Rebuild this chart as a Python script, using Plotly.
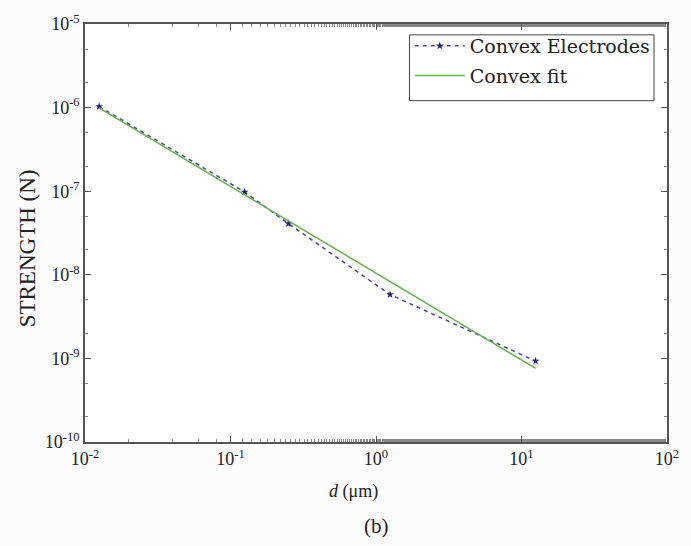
import plotly.graph_objects as go

# data
d_meas = [0.0125, 0.125, 0.25, 1.25, 12.5]
f_meas = [1.03e-6, 9.8e-8, 4.1e-8, 5.8e-9, 9.3e-10]
d_fit = [0.0125, 12.5]
f_fit = [9.9e-7, 7.6e-10]

x_tickvals = [0.01, 0.1, 1, 10, 100]
x_ticktext = ["10<sup>-2</sup>", "10<sup>-1</sup>", "10<sup>0</sup>", "10<sup>1</sup>", "10<sup>2</sup>"]
y_tickvals = [1e-10, 1e-9, 1e-8, 1e-7, 1e-6, 1e-5]
y_ticktext = ["10<sup>-10</sup>", "10<sup>-9</sup>", "10<sup>-8</sup>", "10<sup>-7</sup>", "10<sup>-6</sup>", "10<sup>-5</sup>"]

serif = "Liberation Serif, Times New Roman, serif"

fig = go.Figure()
fig.add_trace(go.Scatter(
    x=d_meas, y=f_meas, mode="lines+markers", name="Convex Electrodes",
    line=dict(color="#4a4aa0", width=1.5, dash="4px,4px"),
    marker=dict(symbol="star", size=6, color="#23236e"),
    legendgroup="a",
))
fig.add_trace(go.Scatter(
    x=d_fit, y=f_fit, mode="lines", name="Convex fit",
    line=dict(color="#66b050", width=1.5),
    legendgroup="b",
))

axis_common = dict(
    showline=True, linecolor="#555555", linewidth=1.5, mirror="allticks",
    ticks="inside", ticklen=6, tickcolor="#555555", showgrid=False, zeroline=False,
    tickfont=dict(family=serif, size=18, color="#222222"),
    minor=dict(ticks="inside", ticklen=3, tickcolor="#888888", showgrid=False),
)

fig.update_xaxes(type="log", range=[-2, 2], tickvals=x_tickvals, ticktext=x_ticktext,
                 **axis_common)
fig.update_yaxes(type="log", range=[-10, -5], tickvals=y_tickvals, ticktext=y_ticktext,
                 **axis_common)

fig.add_annotation(text="STRENGTH (N)", xref="paper", yref="paper", x=-0.0995, y=0.4635,
                   xanchor="center", yanchor="middle", textangle=-90, showarrow=False,
                   font=dict(family=serif, size=23, color="#222222"))
fig.add_annotation(text="<i>d</i> (μm)", xref="paper", yref="paper", x=0.461, y=-0.118,
                   xanchor="center", yanchor="middle", showarrow=False,
                   font=dict(family=serif, size=18, color="#222222"))
fig.add_annotation(text="(b)", xref="paper", yref="paper", x=0.5, y=-0.20, yanchor="middle",
                   showarrow=False, font=dict(family=serif, size=21, color="#222222"))

# legend frame
fig.add_shape(type="rect", xref="paper", yref="paper", x0=0.5575, x1=0.9777, y0=0.8165, y1=0.974,
              line=dict(color="#444444", width=1), fillcolor="white", layer="below")

fig.update_layout(
    width=691, height=546,
    margin=dict(l=85, r=23, t=17, b=104),
    paper_bgcolor="#fcfcfc", plot_bgcolor="white",
    legend=dict(x=0.558, y=0.993, xanchor="left", yanchor="top",
                borderwidth=0, bgcolor="rgba(0,0,0,0)",
                font=dict(family="DejaVu Serif, serif", size=19, color="#222222"),
                itemwidth=50, tracegroupgap=2),
    showlegend=True,
)

fig.write_html("out.html")
